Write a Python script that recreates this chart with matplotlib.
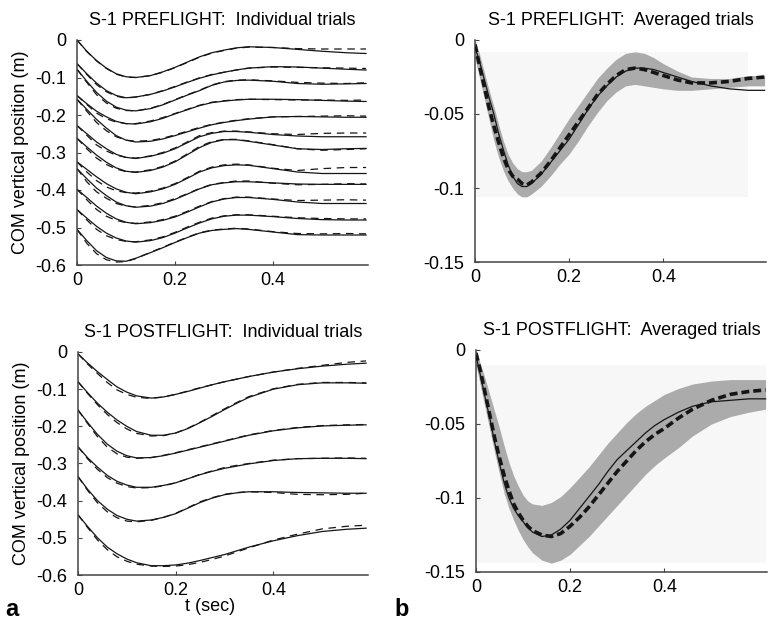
import numpy as np
import matplotlib.pyplot as plt

plt.rcParams['font.family'] = ['Liberation Sans', 'DejaVu Sans']
plt.rcParams['axes.unicode_minus'] = False

# ---- individual trials: time grid (sec) ----
t_ind = [0, 0.02, 0.04, 0.06, 0.08, 0.1, 0.12, 0.15, 0.175, 0.2, 0.225, 0.25, 0.275, 0.3, 0.325, 0.35,
         0.4, 0.45, 0.5, 0.55, 0.59]

# preflight, model (solid)
pre_model = [
    [0, -0.03, -0.055, -0.075, -0.09, -0.098, -0.1, -0.095, -0.085, -0.073, -0.059, -0.045, -0.034, -0.027, -0.021, -0.018, -0.02, -0.025, -0.03, -0.034, -0.036],
    [-0.063, -0.09, -0.115, -0.135, -0.148, -0.154, -0.152, -0.145, -0.136, -0.125, -0.113, -0.102, -0.093, -0.086, -0.08, -0.075, -0.071, -0.072, -0.075, -0.078, -0.08],
    [-0.078, -0.11, -0.14, -0.163, -0.179, -0.187, -0.189, -0.183, -0.173, -0.16, -0.147, -0.135, -0.121, -0.112, -0.108, -0.107, -0.11, -0.116, -0.118, -0.117, -0.116],
    [-0.148, -0.17, -0.19, -0.205, -0.217, -0.223, -0.224, -0.218, -0.209, -0.197, -0.186, -0.175, -0.167, -0.163, -0.16, -0.158, -0.158, -0.159, -0.161, -0.163, -0.164],
    [-0.158, -0.185, -0.212, -0.235, -0.255, -0.267, -0.272, -0.27, -0.264, -0.255, -0.245, -0.235, -0.226, -0.22, -0.215, -0.211, -0.205, -0.204, -0.205, -0.206, -0.206],
    [-0.228, -0.25, -0.272, -0.29, -0.305, -0.313, -0.316, -0.31, -0.302, -0.29, -0.274, -0.258, -0.249, -0.244, -0.244, -0.246, -0.252, -0.256, -0.258, -0.258, -0.258],
    [-0.262, -0.285, -0.307, -0.326, -0.341, -0.35, -0.353, -0.348, -0.339, -0.325, -0.306, -0.287, -0.273, -0.266, -0.266, -0.27, -0.28, -0.29, -0.292, -0.29, -0.289],
    [-0.325, -0.345, -0.365, -0.383, -0.397, -0.406, -0.41, -0.405, -0.397, -0.385, -0.369, -0.352, -0.341, -0.335, -0.333, -0.334, -0.343, -0.352, -0.356, -0.356, -0.356],
    [-0.343, -0.37, -0.395, -0.415, -0.432, -0.442, -0.446, -0.443, -0.436, -0.425, -0.411, -0.397, -0.386, -0.381, -0.378, -0.378, -0.381, -0.384, -0.385, -0.385, -0.385],
    [-0.398, -0.42, -0.443, -0.462, -0.477, -0.486, -0.49, -0.487, -0.481, -0.472, -0.459, -0.445, -0.432, -0.424, -0.42, -0.42, -0.425, -0.432, -0.436, -0.436, -0.436],
    [-0.452, -0.475, -0.497, -0.515, -0.528, -0.536, -0.539, -0.535, -0.527, -0.515, -0.501, -0.488, -0.477, -0.47, -0.467, -0.467, -0.471, -0.476, -0.479, -0.48, -0.48],
    [-0.505, -0.535, -0.562, -0.58, -0.589, -0.59, -0.582, -0.567, -0.554, -0.54, -0.527, -0.515, -0.508, -0.505, -0.503, -0.505, -0.512, -0.519, -0.52, -0.52, -0.52],
]
# preflight, measured (dashed)
pre_meas = [
    [0, -0.031, -0.056, -0.076, -0.091, -0.099, -0.1, -0.095, -0.086, -0.074, -0.06, -0.046, -0.035, -0.028, -0.022, -0.019, -0.02, -0.023, -0.024, -0.024, -0.024],
    [-0.063, -0.092, -0.119, -0.138, -0.15, -0.155, -0.152, -0.145, -0.135, -0.124, -0.112, -0.101, -0.092, -0.086, -0.08, -0.075, -0.072, -0.073, -0.074, -0.075, -0.076],
    [-0.078, -0.113, -0.146, -0.168, -0.182, -0.188, -0.189, -0.182, -0.172, -0.159, -0.146, -0.134, -0.12, -0.111, -0.107, -0.106, -0.109, -0.113, -0.115, -0.116, -0.114],
    [-0.148, -0.172, -0.195, -0.21, -0.219, -0.223, -0.223, -0.216, -0.207, -0.196, -0.185, -0.174, -0.166, -0.162, -0.159, -0.158, -0.159, -0.16, -0.16, -0.161, -0.16],
    [-0.158, -0.19, -0.22, -0.242, -0.258, -0.267, -0.27, -0.268, -0.262, -0.253, -0.243, -0.233, -0.225, -0.219, -0.214, -0.21, -0.205, -0.204, -0.203, -0.202, -0.203],
    [-0.228, -0.254, -0.28, -0.296, -0.307, -0.313, -0.315, -0.309, -0.3, -0.288, -0.272, -0.255, -0.247, -0.243, -0.243, -0.245, -0.25, -0.252, -0.249, -0.248, -0.248],
    [-0.262, -0.29, -0.315, -0.332, -0.344, -0.351, -0.352, -0.346, -0.337, -0.323, -0.304, -0.284, -0.271, -0.265, -0.265, -0.269, -0.279, -0.29, -0.294, -0.292, -0.29],
    [-0.325, -0.352, -0.375, -0.392, -0.402, -0.407, -0.408, -0.403, -0.395, -0.383, -0.367, -0.35, -0.339, -0.333, -0.331, -0.333, -0.342, -0.348, -0.343, -0.34, -0.34],
    [-0.343, -0.378, -0.405, -0.422, -0.436, -0.443, -0.445, -0.441, -0.434, -0.423, -0.41, -0.396, -0.385, -0.38, -0.376, -0.376, -0.382, -0.386, -0.385, -0.383, -0.384],
    [-0.398, -0.426, -0.452, -0.47, -0.481, -0.487, -0.489, -0.485, -0.479, -0.47, -0.457, -0.443, -0.431, -0.423, -0.419, -0.419, -0.424, -0.428, -0.427, -0.426, -0.427],
    [-0.452, -0.48, -0.505, -0.522, -0.532, -0.537, -0.538, -0.533, -0.525, -0.513, -0.499, -0.486, -0.475, -0.469, -0.466, -0.466, -0.47, -0.474, -0.476, -0.477, -0.477],
    [-0.505, -0.542, -0.57, -0.586, -0.592, -0.591, -0.583, -0.566, -0.553, -0.539, -0.526, -0.514, -0.507, -0.504, -0.502, -0.504, -0.511, -0.516, -0.517, -0.516, -0.517],
]

# postflight, model (solid)
post_model = [
    [-0.005, -0.03, -0.053, -0.074, -0.094, -0.108, -0.118, -0.124, -0.121, -0.114, -0.106, -0.097, -0.088, -0.08, -0.073, -0.066, -0.054, -0.045, -0.038, -0.033, -0.03],
    [-0.08, -0.11, -0.138, -0.162, -0.183, -0.2, -0.214, -0.224, -0.224, -0.218, -0.206, -0.19, -0.173, -0.155, -0.138, -0.122, -0.1, -0.088, -0.083, -0.083, -0.084],
    [-0.156, -0.19, -0.222, -0.248, -0.267, -0.279, -0.285, -0.284, -0.279, -0.272, -0.264, -0.256, -0.248, -0.24, -0.232, -0.224, -0.212, -0.204, -0.199, -0.197, -0.196],
    [-0.255, -0.285, -0.31, -0.332, -0.348, -0.358, -0.364, -0.364, -0.359, -0.352, -0.341, -0.33, -0.321, -0.313, -0.307, -0.301, -0.292, -0.287, -0.286, -0.286, -0.287],
    [-0.335, -0.37, -0.4, -0.423, -0.44, -0.45, -0.455, -0.452, -0.445, -0.435, -0.42, -0.405, -0.393, -0.384, -0.379, -0.376, -0.376, -0.378, -0.379, -0.38, -0.38],
    [-0.438, -0.47, -0.5, -0.525, -0.543, -0.557, -0.567, -0.575, -0.575, -0.573, -0.568, -0.561, -0.553, -0.545, -0.535, -0.525, -0.508, -0.494, -0.483, -0.477, -0.474],
]
# postflight, measured (dashed)
post_meas = [
    [-0.005, -0.033, -0.058, -0.082, -0.102, -0.114, -0.122, -0.125, -0.121, -0.114, -0.105, -0.096, -0.088, -0.08, -0.073, -0.066, -0.054, -0.044, -0.036, -0.028, -0.024],
    [-0.08, -0.112, -0.142, -0.168, -0.19, -0.207, -0.219, -0.226, -0.225, -0.218, -0.205, -0.189, -0.171, -0.153, -0.136, -0.12, -0.099, -0.087, -0.082, -0.082, -0.083],
    [-0.156, -0.193, -0.228, -0.256, -0.274, -0.283, -0.286, -0.284, -0.278, -0.271, -0.263, -0.255, -0.247, -0.239, -0.231, -0.223, -0.211, -0.203, -0.198, -0.196, -0.195],
    [-0.255, -0.288, -0.316, -0.338, -0.353, -0.362, -0.366, -0.365, -0.36, -0.352, -0.341, -0.329, -0.32, -0.311, -0.305, -0.3, -0.291, -0.287, -0.286, -0.285, -0.286],
    [-0.335, -0.373, -0.406, -0.43, -0.446, -0.455, -0.457, -0.453, -0.445, -0.434, -0.419, -0.403, -0.392, -0.383, -0.378, -0.376, -0.378, -0.383, -0.384, -0.383, -0.38],
    [-0.438, -0.473, -0.506, -0.532, -0.551, -0.563, -0.571, -0.576, -0.577, -0.576, -0.572, -0.566, -0.558, -0.549, -0.538, -0.527, -0.506, -0.49, -0.476, -0.469, -0.466],
]

# ---- averaged trials ----
t_avg = [0, 0.01, 0.02, 0.03, 0.04, 0.05, 0.06, 0.07, 0.08, 0.09, 0.1, 0.11, 0.12, 0.14, 0.16, 0.18, 0.2,
         0.22, 0.24, 0.26, 0.28, 0.3, 0.32, 0.34, 0.36, 0.38, 0.4, 0.43, 0.46, 0.5, 0.54, 0.58, 0.615]

pre_avg_model = [-0.005, -0.015, -0.027, -0.039, -0.05, -0.063, -0.074, -0.084, -0.092, -0.097, -0.099, -0.099, -0.097,
                 -0.091, -0.083, -0.075, -0.067, -0.057, -0.047, -0.038, -0.031, -0.025, -0.021, -0.019, -0.019, -0.02,
                 -0.022, -0.025, -0.028, -0.031, -0.033, -0.034, -0.034]
pre_avg_meas = [-0.003, -0.018, -0.032, -0.046, -0.058, -0.069, -0.079, -0.087, -0.092, -0.094, -0.097, -0.098, -0.096,
                -0.09, -0.082, -0.073, -0.064, -0.055, -0.046, -0.037, -0.03, -0.024, -0.02, -0.019, -0.02, -0.022,
                -0.024, -0.027, -0.029, -0.029, -0.028, -0.026, -0.025]
pre_band_hi = [0, -0.01, -0.022, -0.034, -0.045, -0.057, -0.068, -0.077, -0.083, -0.087, -0.089, -0.089, -0.088,
               -0.082, -0.073, -0.063, -0.053, -0.044, -0.035, -0.026, -0.019, -0.013, -0.009, -0.008, -0.009, -0.012,
               -0.016, -0.021, -0.025, -0.026, -0.026, -0.024, -0.024]
pre_band_lo = [-0.012, -0.026, -0.04, -0.054, -0.068, -0.079, -0.088, -0.095, -0.1, -0.104, -0.106, -0.106, -0.104,
               -0.099, -0.092, -0.084, -0.077, -0.068, -0.058, -0.049, -0.041, -0.035, -0.031, -0.03, -0.031, -0.032,
               -0.033, -0.034, -0.034, -0.033, -0.032, -0.031, -0.031]

post_avg_model = [-0.004, -0.018, -0.033, -0.047, -0.063, -0.077, -0.09, -0.1, -0.107, -0.112, -0.116, -0.12, -0.123,
                  -0.126, -0.125, -0.121, -0.115, -0.107, -0.099, -0.091, -0.082, -0.074, -0.068, -0.062, -0.056, -0.051,
                  -0.047, -0.042, -0.038, -0.035, -0.034, -0.033, -0.033]
post_avg_meas = [-0.002, -0.015, -0.03, -0.045, -0.06, -0.073, -0.085, -0.095, -0.104, -0.11, -0.115, -0.119, -0.122,
                 -0.125, -0.126, -0.124, -0.119, -0.113, -0.106, -0.098, -0.09, -0.082, -0.075, -0.068, -0.062, -0.057,
                 -0.053, -0.046, -0.04, -0.034, -0.03, -0.028, -0.027]
post_band_hi = [0, -0.01, -0.02, -0.031, -0.042, -0.053, -0.065, -0.076, -0.085, -0.092, -0.098, -0.102, -0.104,
                -0.105, -0.103, -0.099, -0.093, -0.086, -0.079, -0.071, -0.063, -0.056, -0.049, -0.043, -0.038, -0.034,
                -0.03, -0.026, -0.023, -0.021, -0.02, -0.02, -0.02]
post_band_lo = [-0.01, -0.025, -0.04, -0.055, -0.07, -0.084, -0.097, -0.107, -0.115, -0.122, -0.128, -0.133, -0.137,
                -0.142, -0.144, -0.142, -0.138, -0.132, -0.126, -0.119, -0.112, -0.105, -0.098, -0.091, -0.084, -0.078,
                -0.073, -0.066, -0.058, -0.05, -0.045, -0.042, -0.04]

titles = ['S-1 PREFLIGHT:  Individual trials', 'S-1 PREFLIGHT:  Averaged trials',
          'S-1 POSTFLIGHT:  Individual trials', 'S-1 POSTFLIGHT:  Averaged trials']
ind_yticks = [0, -0.1, -0.2, -0.3, -0.4, -0.5, -0.6]
ind_ylabels = ['0', '-0.1', '-0.2', '-0.3', '-0.4', '-0.5', '-0.6']
avg_yticks = [0, -0.05, -0.1, -0.15]
avg_ylabels = ['0', '-0.05', '-0.1', '-0.15']
xticks = [0, 0.2, 0.4]
xlabels = ['0', '0.2', '0.4']

FS = 13
W, H = 777, 624
fig = plt.figure(figsize=(W / 100, H / 100), dpi=100)


def px_axes(x0, y0, x1, y1):
    return fig.add_axes([x0 / W, 1 - y1 / H, (x1 - x0) / W, (y1 - y0) / H])


def style(ax, yticks, ylabels, xmax, ymin, title):
    for s in ['top', 'right']:
        ax.spines[s].set_visible(False)
    for s in ['left', 'bottom']:
        ax.spines[s].set_color('#444444')
        ax.spines[s].set_linewidth(1.1)
    ax.set_xlim(0, xmax)
    ax.set_ylim(ymin, 0)
    ax.set_xticks(xticks)
    ax.set_xticklabels(xlabels)
    ax.set_yticks(yticks)
    ax.set_yticklabels(ylabels)
    ax.tick_params(direction='in', length=3, width=0.8, color='#444444', labelsize=FS, pad=5)
    ax.tick_params(axis='y', pad=8)
    ax.set_title(title, fontsize=FS, pad=11)


solid_kw = dict(color='#151515', lw=0.9)
dash_thin = dict(color='#151515', lw=0.9, linestyle=(0, (6, 4.5)))
dash_thick = dict(color='#151515', lw=2.6, linestyle=(0, (2.2, 1.1)))

# top-left
ax = px_axes(77, 40, 368, 265)
for m, d in zip(pre_model, pre_meas):
    ax.plot(t_ind, m, **solid_kw)
    ax.plot(t_ind, d, **dash_thin)
style(ax, ind_yticks, ind_ylabels, 0.594, -0.6, titles[0])
ax.set_ylabel('COM vertical position (m)', fontsize=FS, labelpad=4)

# bottom-left
ax = px_axes(78, 352, 368, 575)
for m, d in zip(post_model, post_meas):
    ax.plot(t_ind, m, **solid_kw)
    ax.plot(t_ind, d, **dash_thin)
style(ax, ind_yticks, ind_ylabels, 0.594, -0.6, titles[2])
ax.set_ylabel('COM vertical position (m)', fontsize=FS, labelpad=4)
ax.set_xlabel('t (sec)', fontsize=FS)
ax.xaxis.set_label_coords(0.455, -0.105)


def avg_panel(box, model, meas, hi, lo, title, rect_end):
    ax = px_axes(*box)
    # faint bounding box of the shaded band (scan artefact in original)
    ax.fill_between([t_avg[0], t_avg[rect_end]], min(lo), max(hi[1:]), color='#f7f7f7', lw=0, zorder=0)
    ax.fill_between(t_avg, lo, hi, color='#ababab', lw=0, zorder=1)
    ax.plot(t_avg, model, zorder=3, **solid_kw)
    ax.plot(t_avg, meas, zorder=2, **dash_thick)
    style(ax, avg_yticks, avg_ylabels, 0.618, -0.15, title)
    return ax


avg_panel((475, 40, 766, 262), pre_avg_model, pre_avg_meas, pre_band_hi, pre_band_lo, titles[1], -2)
avg_panel((476, 350, 767, 572), post_avg_model, post_avg_meas, post_band_hi, post_band_lo, titles[3], -1)

fig.text(5 / W, 1 - 616 / H, 'a', fontsize=17, fontweight='bold')
fig.text(394 / W, 1 - 616 / H, 'b', fontsize=17, fontweight='bold')

fig.savefig('out.png', dpi=100)
